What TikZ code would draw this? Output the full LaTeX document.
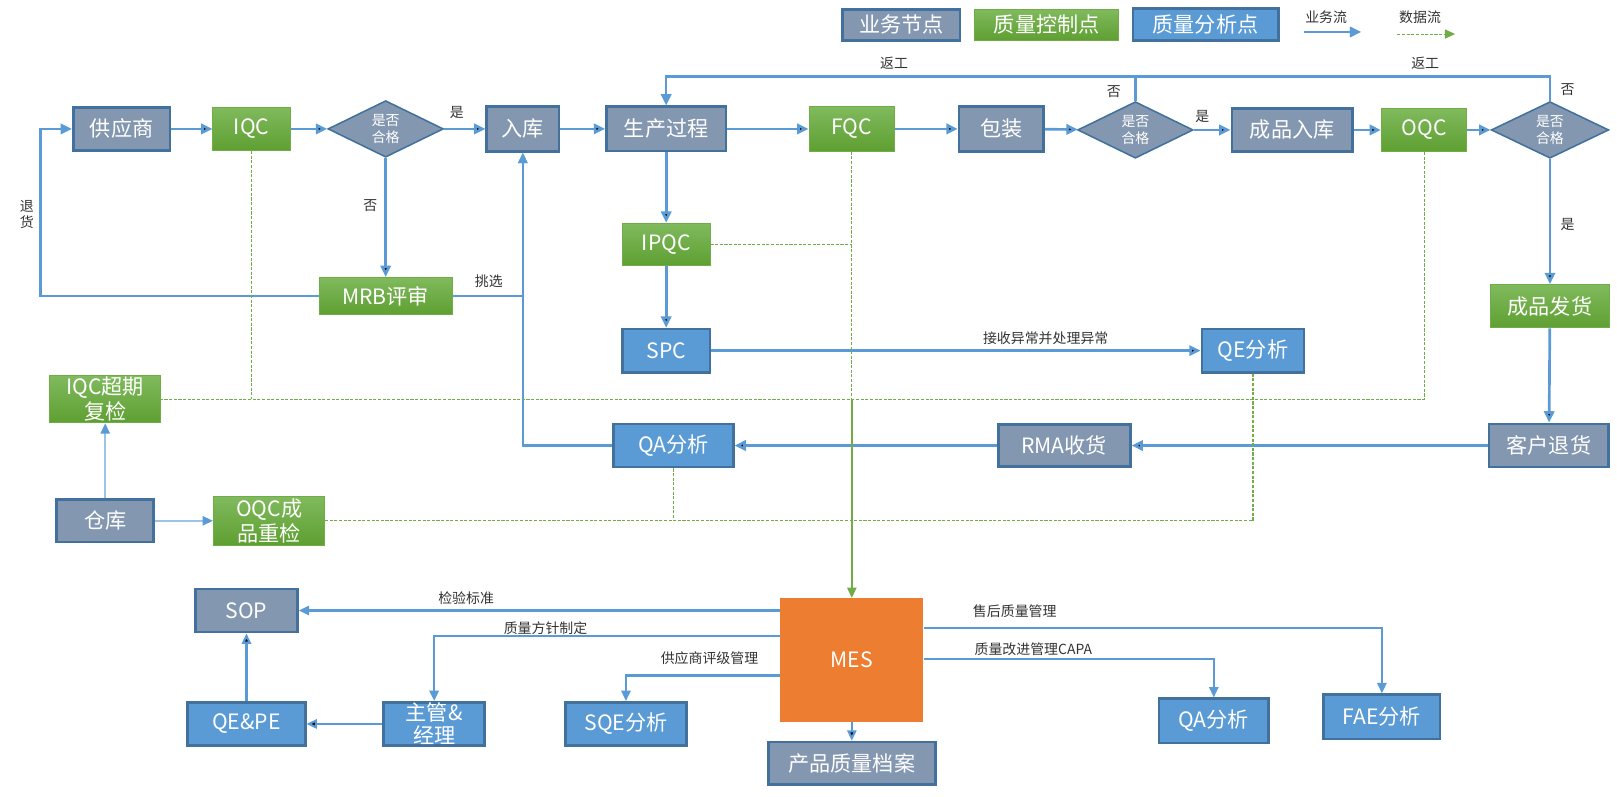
\documentclass[tikz,border=0pt]{standalone}
\usepackage{fontspec}
\setmainfont{Noto Sans CJK SC}
\usetikzlibrary{shapes.geometric, arrows.meta}
\definecolor{bizgray}{HTML}{8497B0}
\definecolor{edgeblue}{HTML}{41719C}
\definecolor{qablue}{HTML}{5B9BD5}
\definecolor{arrowblue}{HTML}{5B9BD5}
\definecolor{paleblue}{HTML}{9DC3E6}
\definecolor{qctop}{HTML}{80BA5D}
\definecolor{qcbot}{HTML}{5E9F31}
\definecolor{qcedge}{HTML}{70AD47}
\definecolor{datagreen}{HTML}{70AD47}
\definecolor{mesorange}{HTML}{ED7D31}
\definecolor{labelgray}{HTML}{333333}

\begin{document}
\begin{tikzpicture}[x=1pt,y=-1pt,
    wh/.style 2 args={minimum width=#1pt,minimum height=#2pt},
    box/.style={rectangle,inner sep=0pt,text=white,align=center,font=\fontsize{20.5}{24}\selectfont},
    biz node/.style={box,fill=bizgray,draw=edgeblue,line width=2.5pt},
    qc node/.style={box,top color=qctop,bottom color=qcbot,draw=qcedge,line width=1pt},
    qa node/.style={box,fill=qablue,draw=edgeblue,line width=2.5pt},
    check node/.style={diamond,inner sep=0pt,fill=bizgray,draw=edgeblue,line width=1.5pt,text=white,align=center,font=\fontsize{13.5}{16}\selectfont,minimum width=112pt,minimum height=46pt},
    tag/.style={inner sep=0pt,text=labelgray,align=center,font=\fontsize{13.5}{15}\selectfont},
    conn/.style={draw=arrowblue,line width=2.6pt},
    flow/.style={conn,-{Triangle[length=11pt,width=10pt]}},
    thin flow/.style={draw=arrowblue,line width=2pt,-{Triangle[length=10pt,width=9pt]}},
    pale flow/.style={draw=paleblue,line width=1.6pt,-{Triangle[length=10pt,width=9pt,color=arrowblue]}},
    data/.style={draw=datagreen,line width=1pt,dash pattern=on 3pt off 1.5pt},
    feed/.style={draw=datagreen,line width=1.5pt,-{Triangle[length=10pt,width=9pt]}}]
    \useasboundingbox (0,0) rectangle (1568,772);

    \node [biz node, wh={114}{30}] (lgbiz) at (874,24) {业务节点};
    \node [qc node, wh={140}{30}] (lgqc) at (1015,24) {质量控制点};
    \node [qa node, wh={141}{31}] (lgqa) at (1169,24) {质量分析点};
    \node [tag] (lgflow) at (1286,17) {业务流};
    \node [tag] (lgdata) at (1377,17) {数据流};
    \coordinate (lgflowA) at (1264,31);
    \coordinate (lgflowB) at (1320,31);
    \coordinate (lgdataA) at (1355,33);
    \coordinate (lgdataB) at (1411,33);

    \node [biz node, wh={94}{42}] (sup) at (118,125) {供应商};
    \node [qc node, wh={75}{42}] (iqc) at (244,125) {IQC};
    \node [check node] (chkA) at (374,125) {是否\\合格};
    \node [biz node, wh={70}{44}] (stock) at (507,125) {入库};
    \node [biz node, wh={116}{43}] (prod) at (646,125) {生产过程};
    \node [qc node, wh={83}{43}] (fqc) at (826,125) {FQC};
    \node [biz node, wh={82}{44}] (pack) at (971,125) {包装};
    \node [check node] (chkB) at (1101,126) {是否\\合格};
    \node [biz node, wh={117}{42}] (fin) at (1253,126) {成品入库};
    \node [qc node, wh={83}{42}] (oqc) at (1381,126) {OQC};
    \node [check node, minimum width=114pt] (chkC) at (1503,126) {是否\\合格};

    \node [qc node, wh={129}{36}] (mrb) at (374,287) {MRB评审};
    \node [qc node, wh={85}{41}] (ipqc) at (646,237) {IPQC};
    \node [qa node, wh={85}{42}] (spc) at (646,340) {SPC};
    \node [qa node, wh={99}{42}] (qeA) at (1215,340) {QE分析};
    \node [qc node, wh={116}{42}] (ship) at (1503,297) {成品发货};
    \node [qc node, wh={108}{46}] (iqcre) at (102,387) {IQC超期\\复检};
    \node [qa node, wh={116}{42}] (qaA) at (653,432) {QA分析};
    \node [biz node, wh={128}{41}] (rma) at (1032,432) {RMA收货};
    \node [biz node, wh={116}{42}] (ret) at (1502,432) {客户退货};
    \node [biz node, wh={94}{41}] (depot) at (102,505) {仓库};
    \node [qc node, wh={108}{47}] (oqcre) at (261,505) {OQC成\\品重检};

    \node [box, fill=mesorange, wh={139}{120}] (mes) at (826,640) {MES};
    \node [biz node, wh={99}{42}] (sop) at (239,592) {SOP};
    \node [qa node, wh={114}{42}] (qepe) at (239,702) {QE\&PE};
    \node [qa node, wh={98}{42}, font=\fontsize{20.5}{22}\selectfont] (mgr) at (421,702) {主管\&\\经理};
    \node [qa node, wh={117}{42}] (sqe) at (607,702) {SQE分析};
    \node [biz node, wh={162}{41}] (arch) at (826,740) {产品质量档案};
    \node [qa node, wh={106}{43}] (qaB) at (1177,699) {QA分析};
    \node [qa node, wh={113}{43}] (fae) at (1340,695) {FAE分析};

    \node [tag] (yesA) at (443,109) {是};
    \node [tag] (noA) at (359,199) {否};
    \node [tag] (backlbl) at (26,208) {退\\货};
    \node [tag] (picklbl) at (474,273) {挑选};
    \node [tag] (rwlblB) at (867,61) {返工};
    \node [tag] (rwlblC) at (1382,61) {返工};
    \node [tag] (noB) at (1080,89) {否};
    \node [tag] (noC) at (1520,87) {否};
    \node [tag] (yesB) at (1166,113) {是};
    \node [tag] (yesC) at (1520,218) {是};
    \node [tag] (spclbl) at (1014,328) {接收异常并处理异常};
    \node [tag] (soplbl) at (452,580) {检验标准};
    \node [tag] (mgrlbl) at (529,609) {质量方针制定};
    \node [tag] (sqelbl) at (688,638) {供应商评级管理};
    \node [tag] (faelbl) at (984,593) {售后质量管理};
    \node [tag] (qalbl) at (1002,630) {质量改进管理CAPA};

    \coordinate (backB) at (39,125);
    \coordinate (rwB) at (1101,74);
    \coordinate (rwC) at (1503,74);
    \coordinate (toMgr) at (700,617);
    \coordinate (toSqe) at (700,655);
    \coordinate (toFae) at (950,609);
    \coordinate (toQa) at (950,639);
    \coordinate (dataB) at (1381,387);
    \coordinate (dataC) at (826,387);
    \coordinate (dataE) at (1215,505);

    \draw [flow] (lgflowA) -- (lgflowB);
    \draw [data, -{Triangle[length=10pt,width=9pt]}] (lgdataA) -- (lgdataB);

    \path [flow] (sup) edge (iqc);
    \path [flow] (iqc) edge (chkA);
    \path [flow] (chkA) edge (stock);
    \path [flow] (chkA) edge (mrb);
    \path [flow] (stock) edge (prod);
    \path [flow] (prod) edge (fqc);
    \path [flow] (fqc) edge (pack);
    \path [flow] (pack) edge (chkB);
    \path [flow] (chkB) edge (fin);
    \path [flow] (fin) edge (oqc);
    \path [flow] (oqc) edge (chkC);
    \path [flow] (chkC) edge (ship);
    \path [flow] (ship) edge (ret);
    \path [flow] (ret) edge (rma);
    \path [flow] (rma) edge (qaA);
    \path [flow] (prod) edge (ipqc);
    \path [flow] (ipqc) edge (spc);
    \path [flow] (spc) edge (qeA);
    \draw [flow, line width=2.5pt] (mrb.west) -| (backB) -- (sup.west);
    \draw [thin flow] (mrb.east) -| (stock.south);
    \draw [thin flow] (qaA.west) -| (stock.south);
    \draw [conn, line width=2.5pt] (chkC.north) -- (rwC) -- (rwB);
    \draw [flow, line width=2.5pt] (chkB.north) -- (rwB) -| (prod.north);
    \path [pale flow] (depot) edge (iqcre);
    \path [pale flow] (depot) edge (oqcre);

    \draw [thin flow] (mes.west |- sop.east) -- (sop.east);
    \draw [thin flow] (mes.west |- toMgr) -| (mgr.north);
    \draw [thin flow] (mes.west |- toSqe) -| (sqe.north);
    \path [thin flow] (mgr) edge (qepe);
    \path [thin flow] (qepe) edge (sop);
    \path [thin flow] (mes) edge (arch);
    \draw [thin flow] (mes.east |- toFae) -| (fae.north);
    \draw [thin flow] (mes.east |- toQa) -| (qaB.north);

    \draw [data] (iqc.south) -- (iqc.south |- dataB);
    \draw [data] (oqc.south) -- (dataB) -- (iqcre.east);
    \draw [data] (fqc.south) -- (dataC);
    \draw [data] (ipqc.east) -- (ipqc.east -| fqc.south);
    \draw [data] (qeA.south) -- (dataE) -- (oqcre.east);
    \draw [data] (qaA.south) -- (qaA.south |- dataE);
    \draw [feed] (dataC) -- (mes.north);
\end{tikzpicture}
\end{document}
